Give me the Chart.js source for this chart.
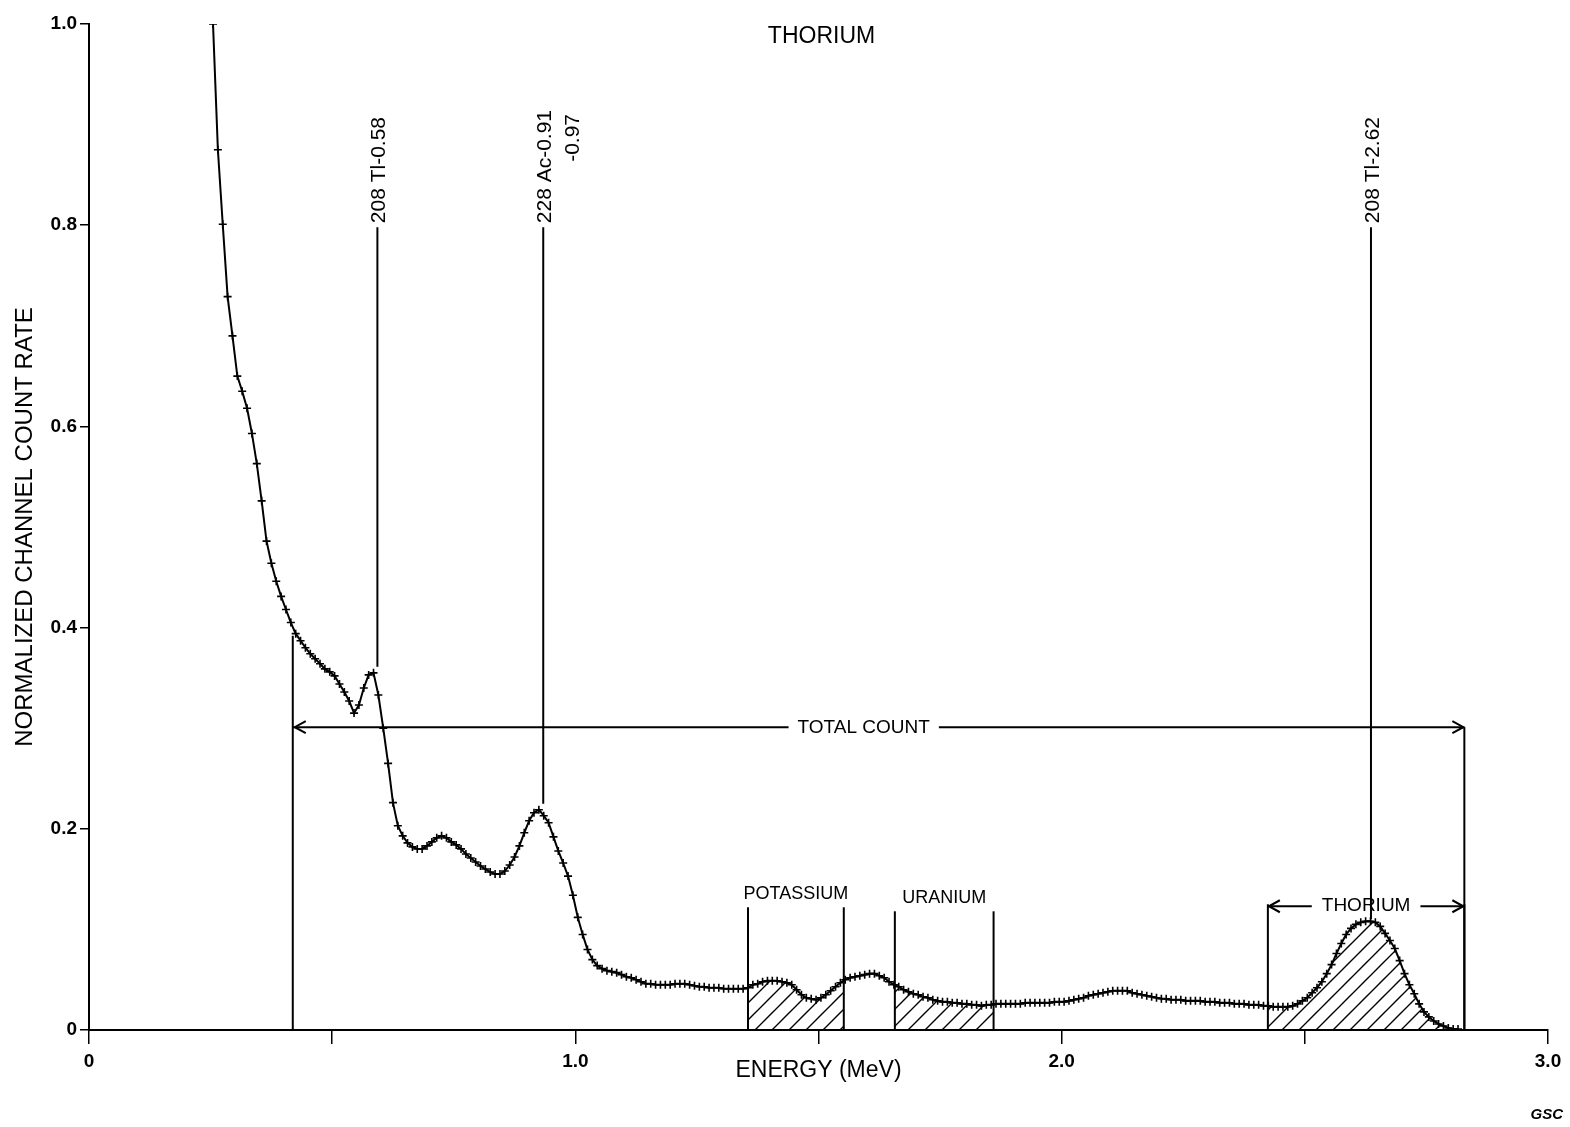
<!DOCTYPE html>
<html>
<head>
<meta charset="utf-8">
<script src="https://cdn.jsdelivr.net/npm/chart.js@4.4.1/dist/chart.umd.min.js"></script>
<style>
html,body{margin:0;padding:0;background:#fff;}
#wrap{width:1570px;height:1127px;position:relative;}
</style>
</head>
<body>
<div id="wrap"><canvas id="c" width="1570" height="1127"></canvas></div>
<script>
// ---------- DATA ----------
const energies = [
0.255,0.265,0.275,0.285,0.295,0.305,0.315,0.325,0.335,0.345,
0.355,0.365,0.375,0.385,0.395,0.405,0.415,0.425,0.435,0.445,
0.455,0.465,0.475,0.485,0.495,0.505,0.515,0.525,0.535,0.545,
0.555,0.565,0.575,0.585,0.595,0.605,0.615,0.625,0.635,0.645,
0.655,0.665,0.675,0.685,0.695,0.705,0.715,0.725,0.735,0.745,
0.755,0.765,0.775,0.785,0.795,0.805,0.815,0.825,0.835,0.845,
0.855,0.865,0.875,0.885,0.895,0.905,0.915,0.925,0.935,0.945,
0.955,0.965,0.975,0.985,0.995,1.005,1.015,1.025,1.035,1.045,
1.055,1.065,1.075,1.085,1.095,1.105,1.115,1.125,1.135,1.145,
1.155,1.165,1.175,1.185,1.195,1.205,1.215,1.225,1.235,1.245,
1.255,1.265,1.275,1.285,1.295,1.305,1.315,1.325,1.335,1.345,
1.355,1.365,1.375,1.385,1.395,1.405,1.415,1.425,1.435,1.445,
1.455,1.465,1.475,1.485,1.495,1.505,1.515,1.525,1.535,1.545,
1.555,1.565,1.575,1.585,1.595,1.605,1.615,1.625,1.635,1.645,
1.655,1.665,1.675,1.685,1.695,1.705,1.715,1.725,1.735,1.745,
1.755,1.765,1.775,1.785,1.795,1.805,1.815,1.825,1.835,1.845,
1.855,1.865,1.875,1.885,1.895,1.905,1.915,1.925,1.935,1.945,
1.955,1.965,1.975,1.985,1.995,2.005,2.015,2.025,2.035,2.045,
2.055,2.065,2.075,2.085,2.095,2.105,2.115,2.125,2.135,2.145,
2.155,2.165,2.175,2.185,2.195,2.205,2.215,2.225,2.235,2.245,
2.255,2.265,2.275,2.285,2.295,2.305,2.315,2.325,2.335,2.345,
2.355,2.365,2.375,2.385,2.395,2.405,2.415,2.425,2.435,2.445,
2.455,2.465,2.475,2.485,2.495,2.505,2.515,2.525,2.535,2.545,
2.555,2.565,2.575,2.585,2.595,2.605,2.615,2.625,2.635,2.645,
2.655,2.665,2.675,2.685,2.695,2.705,2.715,2.725,2.735,2.745,
2.755,2.765,2.775,2.785,2.795,2.805,2.815
];
const countRate = [
1.000,0.875,0.801,0.729,0.690,0.650,0.635,0.618,0.593,0.563,
0.526,0.486,0.464,0.446,0.431,0.418,0.405,0.394,0.387,0.380,
0.374,0.369,0.364,0.359,0.356,0.352,0.344,0.336,0.327,0.315,
0.323,0.340,0.353,0.355,0.333,0.300,0.265,0.226,0.203,0.193,
0.186,0.182,0.180,0.180,0.183,0.187,0.191,0.193,0.191,0.187,
0.184,0.180,0.175,0.171,0.167,0.163,0.160,0.157,0.155,0.155,
0.158,0.164,0.172,0.183,0.196,0.208,0.216,0.219,0.213,0.206,
0.192,0.178,0.166,0.153,0.134,0.112,0.095,0.080,0.070,0.064,
0.061,0.059,0.058,0.057,0.055,0.053,0.052,0.050,0.048,0.046,
0.046,0.045,0.045,0.045,0.045,0.046,0.046,0.046,0.045,0.044,
0.043,0.043,0.042,0.042,0.042,0.041,0.041,0.041,0.041,0.041,
0.042,0.045,0.046,0.048,0.049,0.049,0.049,0.048,0.047,0.045,
0.040,0.035,0.032,0.031,0.030,0.032,0.035,0.039,0.043,0.047,
0.050,0.052,0.053,0.054,0.055,0.056,0.056,0.054,0.052,0.048,
0.045,0.043,0.040,0.038,0.036,0.035,0.033,0.032,0.030,0.029,
0.028,0.028,0.027,0.027,0.026,0.026,0.025,0.025,0.024,0.025,
0.025,0.026,0.026,0.026,0.026,0.026,0.026,0.027,0.027,0.027,
0.027,0.027,0.027,0.028,0.028,0.028,0.029,0.030,0.031,0.032,
0.034,0.035,0.036,0.037,0.038,0.039,0.039,0.039,0.039,0.037,
0.036,0.035,0.034,0.033,0.032,0.031,0.031,0.030,0.030,0.030,
0.029,0.029,0.029,0.029,0.028,0.028,0.028,0.027,0.027,0.027,
0.026,0.026,0.026,0.025,0.025,0.025,0.024,0.024,0.023,0.023,
0.023,0.023,0.024,0.026,0.029,0.032,0.037,0.042,0.048,0.056,
0.065,0.076,0.086,0.095,0.101,0.105,0.107,0.108,0.108,0.107,
0.103,0.096,0.089,0.081,0.069,0.056,0.045,0.036,0.026,0.018,
0.013,0.009,0.006,0.004,0.002,0.001,0.001
];
const xTickLabels = ['0','','1.0','','2.0','','3.0'];
const yTickLabels = ['0','0.2','0.4','0.6','0.8','1.0'];

// energy windows (MeV) and their marker heights (count-rate units)
const windowNames  = ['POTASSIUM','URANIUM','THORIUM'];
const windowLow    = [1.355, 1.657, 2.424];
const windowHigh   = [1.552, 1.860, 2.828];
const windowTop    = [0.122, 0.118, 0.125];

// peak identification lines
const peakLabels   = [['208 Tl-0.58'], ['228 Ac-0.91','-0.97'], ['208 Tl-2.62']];
const peakEnergy   = [0.593, 0.934, 2.636];
const peakLineTop  = [0.798, 0.798, 0.798];
const peakLineEnd  = [0.361, 0.225, 0.110];

// total count window
const totalCountLow = 0.419, totalCountHigh = 2.828, totalCountLevel = 0.301, totalCountLeftTop = 0.392;
const totalCountLabelAt = 1.593;

// ---------- RENDERING ----------
const FONT = "'Liberation Sans', Arial, Helvetica, sans-serif";
Chart.defaults.font.family = FONT;
Chart.defaults.color = '#000';

const canvas = document.getElementById('c');
const ctx0 = canvas.getContext('2d');
const hatch = (() => {
  const s = 17, c = document.createElement('canvas');
  c.width = s; c.height = s;
  const g = c.getContext('2d');
  g.strokeStyle = '#000'; g.lineWidth = 1.4;
  g.beginPath();
  g.moveTo(-2, s + 2); g.lineTo(s + 2, -2);
  g.moveTo(-2, 2); g.lineTo(2, -2);
  g.moveTo(s - 2, s + 2); g.lineTo(s + 2, s - 2);
  g.stroke();
  return ctx0.createPattern(c, 'repeat');
})();

const hatchPlugin = {
  id: 'hatch',
  beforeDatasetsDraw(chart) {
    const {ctx, scales: {x, y}, chartArea: ca} = chart;
    const pts = chart.getDatasetMeta(0).data;
    const y0 = y.getPixelForValue(0);
    for (let i = 0; i < windowNames.length; i++) {
      const xl = x.getPixelForValue(windowLow[i]), xr = x.getPixelForValue(windowHigh[i]);
      ctx.save();
      ctx.beginPath(); ctx.rect(xl, ca.top, xr - xl, y0 - ca.top); ctx.clip();
      ctx.beginPath();
      ctx.moveTo(pts[0].x, y0);
      pts.forEach(p => ctx.lineTo(p.x, p.y));
      ctx.lineTo(pts[pts.length - 1].x, y0);
      ctx.closePath();
      ctx.fillStyle = hatch; ctx.fill();
      ctx.restore();
    }
  }
};

const annotatePlugin = {
  id: 'annot',
  afterDatasetsDraw(chart) {
    const {ctx, scales: {x, y}, chartArea: ca} = chart;
    const px = v => x.getPixelForValue(v), py = v => y.getPixelForValue(v);
    ctx.save();
    ctx.strokeStyle = '#000'; ctx.fillStyle = '#000'; ctx.lineWidth = 2;
    const line = (x1, y1, x2, y2) => { ctx.beginPath(); ctx.moveTo(x1, y1); ctx.lineTo(x2, y2); ctx.stroke(); };
    const arrow = (xt, yt, dir) => { ctx.beginPath(); ctx.moveTo(xt + dir * 11, yt - 6); ctx.lineTo(xt, yt); ctx.lineTo(xt + dir * 11, yt + 6); ctx.stroke(); };

    // peak lines with rotated labels
    for (let i = 0; i < peakEnergy.length; i++) {
      const X = px(peakEnergy[i]);
      line(X, py(peakLineTop[i]), X, py(peakLineEnd[i]));
      ctx.save();
      ctx.translate(X + 2, py(peakLineTop[i]) - 4);
      ctx.rotate(-Math.PI / 2);
      ctx.font = `21px ${FONT}`;
      ctx.textBaseline = 'middle'; ctx.textAlign = 'left';
      ctx.fillText(peakLabels[i][0], 0, 0);
      if (peakLabels[i][1]) {
        const w = ctx.measureText(peakLabels[i][0]).width;
        ctx.textAlign = 'right';
        ctx.fillText(peakLabels[i][1], w - 4, 28);
      }
      ctx.restore();
    }

    // total count
    const tl = px(totalCountLow), th = px(totalCountHigh), ty = py(totalCountLevel);
    line(tl, py(0), tl, py(totalCountLeftTop));
    line(th, py(0), th, ty);
    ctx.font = `19px ${FONT}`;
    const tw = ctx.measureText('TOTAL COUNT').width, tcx = px(totalCountLabelAt);
    line(tl, ty, tcx - tw / 2 - 9, ty);
    line(tcx + tw / 2 + 9, ty, th, ty);
    arrow(tl + 2, ty, 1); arrow(th - 1, ty, -1);
    ctx.textAlign = 'center'; ctx.textBaseline = 'middle';
    ctx.fillText('TOTAL COUNT', tcx, ty + 1);

    // energy windows
    for (let i = 0; i < windowNames.length; i++) {
      const xl = px(windowLow[i]), xr = px(windowHigh[i]), yt = py(windowTop[i]);
      line(xl, py(0), xl, yt); line(xr, py(0), xr, yt);
      if (windowNames[i] === 'THORIUM') {
        ctx.font = `19px ${FONT}`;
        const w = ctx.measureText(windowNames[i]).width, cx = (xl + xr) / 2, ay = yt + 2;
        line(xl, ay, cx - w / 2 - 10, ay);
        line(cx + w / 2 + 10, ay, xr, ay);
        arrow(xl + 1, ay, 1); arrow(xr - 1, ay, -1);
        ctx.textAlign = 'center'; ctx.textBaseline = 'middle';
        ctx.fillText(windowNames[i], cx, ay);
      } else {
        ctx.font = `18px ${FONT}`;
        ctx.textAlign = 'center'; ctx.textBaseline = 'alphabetic';
        ctx.fillText(windowNames[i], (xl + xr) / 2, yt - 8);
      }
    }

    // title and credit
    ctx.font = `23px ${FONT}`;
    ctx.textAlign = 'center'; ctx.textBaseline = 'middle';
    ctx.fillText('THORIUM', (ca.left + ca.right) / 2 + 3, ca.top + 13);
    ctx.font = `italic bold 15px ${FONT}`;
    ctx.textAlign = 'right';
    ctx.fillText('GSC', 1563, 1115);
    ctx.restore();
  }
};

new Chart(canvas, {
  type: 'line',
  data: {
    datasets: [{
      data: energies.map((e, i) => ({x: e, y: countRate[i]})),
      borderColor: '#000', borderWidth: 2, tension: 0, fill: false,
      pointStyle: 'cross', pointRadius: 4, pointBorderWidth: 1.6,
      pointBorderColor: '#000', pointBackgroundColor: '#000'
    }]
  },
  options: {
    responsive: false, animation: false, devicePixelRatio: 1,
    layout: {padding: {left: 0, top: 24, right: 22, bottom: 0}},
    plugins: {legend: {display: false}, tooltip: {enabled: false}, title: {display: false}},
    scales: {
      x: {
        type: 'linear', min: 0, max: 3,
        afterFit(s) { s.height = 97; },
        border: {display: true, color: '#000', width: 2},
        grid: {drawOnChartArea: false, drawTicks: true, tickLength: 14, color: '#000', lineWidth: 1.5},
        ticks: {stepSize: 0.5, padding: 6, maxRotation: 0, autoSkip: false,
                font: {size: 19, weight: 'bold'},
                callback: (v, i) => xTickLabels[i]},
        title: {display: true, text: 'ENERGY (MeV)', font: {size: 23}, padding: {top: 0, bottom: 43}}
      },
      y: {
        min: 0, max: 1,
        afterFit(s) { s.width = 89; },
        border: {display: true, color: '#000', width: 2},
        grid: {drawOnChartArea: false, drawTicks: true, tickLength: 9, color: '#000', lineWidth: 1.5},
        ticks: {stepSize: 0.2, padding: 3, font: {size: 19, weight: 'bold'},
                callback: (v, i) => yTickLabels[i]},
        title: {display: true, text: 'NORMALIZED CHANNEL COUNT RATE', font: {size: 24}, padding: {top: 11, bottom: 0}}
      }
    }
  },
  plugins: [hatchPlugin, annotatePlugin]
});
</script>
</body>
</html>
